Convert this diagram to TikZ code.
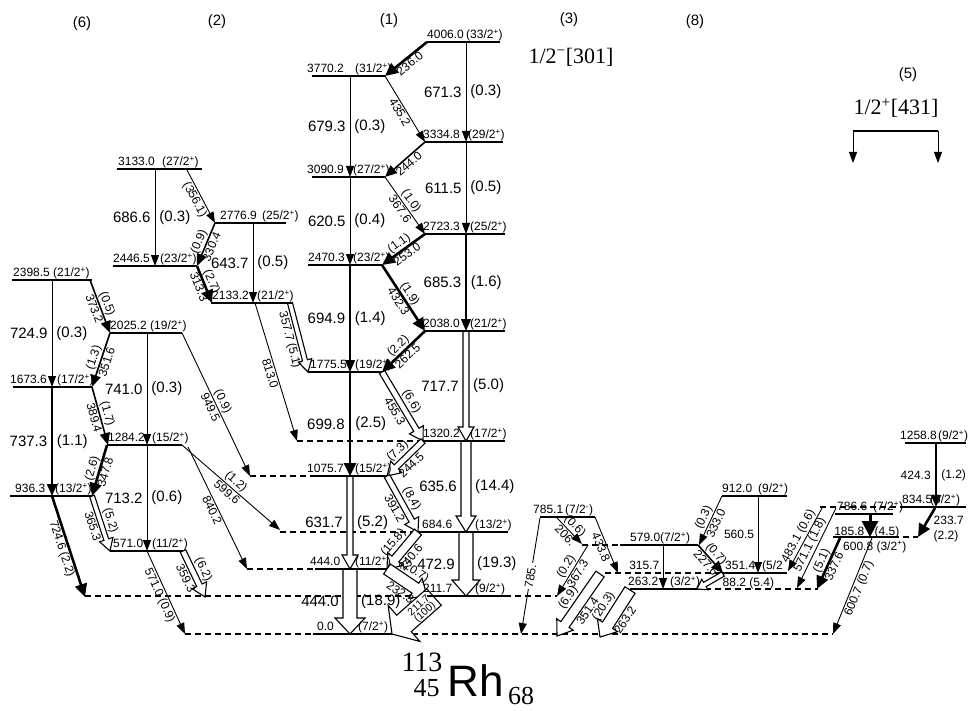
\documentclass[tikz,border=0pt]{standalone}
\usepackage{fontspec}
\setmainfont{Liberation Sans}
\newfontfamily\tnr{Liberation Serif}
\usetikzlibrary{arrows.meta,calc}
\tikzset{
 lev/.style={line width=2.6pt},
 dsh/.style={line width=1.2pt, dash pattern=on 6pt off 4pt},
 tn/.style={line width=0.9pt, -{Triangle[length=11pt,width=8pt]}},
 tm/.style={line width=1.6pt, -{Triangle[length=12pt,width=10pt]}},
 tk/.style={line width=2.6pt, -{Triangle[length=13pt,width=12pt]}},
 tkb/.style={line width=3pt, -{Triangle[length=16pt,width=16pt]}},
 holl/.style={line width=1.1pt, fill=white, line join=miter},
 llab/.style={font=\fontsize{12}{12}\selectfont, inner sep=0pt},
 vlab/.style={font=\fontsize{15}{15}\selectfont, inner sep=0pt},
 lab/.style={font=\fontsize{12}{12}\selectfont, inner sep=1.5pt},
 slab/.style={font=\fontsize{10.5}{10.5}\selectfont, inner sep=0.5pt},
 blab/.style={font=\fontsize{15}{15}\selectfont},
 nilss/.style={font=\tnr\fontsize{22}{22}\selectfont, inner sep=0pt},
}
\newcommand\ifnz[2]{\if\relax\detokenize{#1}\relax\else #2\fi}
\newcommand\lev[8]{%
 \coordinate (#1L) at (#2,#4); \coordinate (#1R) at (#3,#4);
 \draw[lev] (#1L) -- (#1R);
 \node[llab,anchor=base west] (#1e) at (#5,#4-3.5) {#6};
 \node[llab,anchor=base west] (#1s) at (#7,#4-3.5) {#8};}
\newcommand\dl[4]{%
 \coordinate (#1a) at (#2,#4); \coordinate (#1b) at (#3,#4);
 \draw[dsh] (#1a) -- (#1b);}
\newcommand\vg[7]{%
 \coordinate (#1a) at (#3,#4); \coordinate (#1b) at (#3,#5);
 \draw[#2] (#1a) -- (#1b) node[midway,left=4pt,vlab] (#1l) {#6} node[midway,right=4pt,vlab] (#1r) {#7};}
\newcommand\dg[6]{%
 \coordinate (#1a) at (#3); \coordinate (#1b) at (#4);
 \draw[#2] (#1a) -- (#1b);
 \ifnz{#5}{\path (#1a) -- (#1b) node[midway,sloped,above,lab] (#1u) {#5};}%
 \ifnz{#6}{\path (#1a) -- (#1b) node[midway,sloped,below,lab] (#1d) {#6};}}
\newcommand\hol[8]{%
 \coordinate (#1a) at (#2); \coordinate (#1b) at (#3);
 \coordinate (#1c) at ($(#1b)!#6!(#1a)$);
 \draw[holl] ($(#1a)!#4!90:(#1b)$) -- ($(#1c)!#4!90:(#1b)$) -- ($(#1c)!#5!90:(#1b)$) -- (#1b)
   -- ($(#1c)!#5!-90:(#1b)$) -- ($(#1c)!#4!-90:(#1b)$) -- ($(#1a)!#4!-90:(#1b)$) -- cycle;
 \ifnz{#7}{\path (#1a) -- (#1b) node[midway,sloped,above=#4,lab] (#1u) {#7};}%
 \ifnz{#8}{\path (#1a) -- (#1b) node[midway,sloped,below=#4,lab] (#1d) {#8};}}
\newcommand\holv[9]{%
 \hol{#1}{#2,#3}{#2,#4}{#5}{#6}{#7}{}{}
 \path (#1a) -- (#1b) node[midway,left=#5,xshift=-4pt,vlab] (#1l) {#8} node[midway,right=#5,xshift=4pt,vlab] (#1r) {#9};}
\newcommand\pl{\textsuperscript{+}}
\begin{document}
\begin{tikzpicture}[x=1pt,y=-1pt]
\useasboundingbox (0,0) rectangle (968,711);
% band labels
\node[blab] (b6) at (82,24) {(6)};
\node[blab] (b2) at (217,22) {(2)};
\node[blab] (b1) at (389,21) {(1)};
\node[blab] (b3) at (569,20) {(3)};
\node[blab] (b8) at (695,22) {(8)};
\node[blab] (b5) at (908,75) {(5)};
\node[nilss] (n3) at (571,57) {1/2\textsuperscript{\char"2212}[301]};
\node[nilss] (n5) at (896,108) {1/2\textsuperscript{+}[431]};
\coordinate (bkl) at (853,131); \coordinate (bkr) at (938,131);
\coordinate (bkla) at (853,163); \coordinate (bkra) at (938,163);
\draw[line width=1.2pt] (bkl) -- (bkr);
\draw[tn] (bkl) -- (bkla); \draw[tn] (bkr) -- (bkra);
% dashed extensions
\dl{d1320}{297}{423}{441}
\dl{d1075}{250}{310}{476}
\dl{d684}{280}{418}{532}
\dl{d444}{247}{315}{569}
\dl{d211a}{85}{427}{596}
\dl{d211b}{505}{557}{596}
\dl{d0a}{185}{313}{634}
\dl{d0b}{392}{833}{634}
\dl{d579}{582}{620}{545}
\dl{d351}{605}{723}{573}
\dl{d263}{695}{818}{589}
\dl{d834}{820}{903}{507}
\dl{d600}{893}{918}{537}
% hollow transitions
\holv{g717}{466}{331}{441}{3pt}{8pt}{14pt}{717.7}{(5.0)}
\holv{g635}{466}{441}{532}{5pt}{10pt}{16pt}{635.6}{(14.4)}
\holv{g631}{350}{476}{569}{3pt}{8pt}{14pt}{631.7}{(5.2)}
\holv{g472}{466}{532}{596}{7pt}{14pt}{16pt}{472.9}{(19.3)}
\holv{g444}{350}{569}{634}{7pt}{15pt}{16pt}{444.0}{(18.9)}
\hol{g357}{290,303}{308,372}{2.5pt}{7pt}{12pt}{}{357.7 (5.1)}
\hol{g455}{382,372}{423,441}{3pt}{8pt}{13pt}{(6.6)}{455.3}
\hol{g245}{423,441}{387,476}{3pt}{8pt}{13pt}{(7.3)}{244.5}
\hol{g391}{387,476}{418,532}{3pt}{8pt}{13pt}{(8.4)}{391.2}
\hol{g240}{418,532}{387,569}{4.5pt}{10pt}{13pt}{(15.8)}{240.6}
\hol{g232}{387,569}{427,596}{6pt}{12pt}{14pt}{(20.7)}{232.3}
\hol{g211}{434,597}{392,634}{11pt}{24pt}{16pt}{}{}
\path (g211a) -- (g211b) node[pos=0.3,sloped,above=0pt,slab] (g211u) {211.7} node[pos=0.3,sloped,below=0pt,slab] (g211d) {(100)};
\hol{g365}{92,496}{110,551}{2.5pt}{7pt}{12pt}{(5.2)}{365.3}
\hol{g359}{183,551}{205,597}{3pt}{8pt}{13pt}{(6.2)}{359.3}
\hol{g351b}{600,574}{557,636}{5pt}{10pt}{14pt}{(6.9)}{351.4}
\hol{g263}{630,590}{600,637}{6pt}{12pt}{14pt}{(20.3)}{263.2}
\hol{g88}{723,574}{697,589}{2.5pt}{6pt}{9pt}{}{}
\node[lab,anchor=base west] (t88) at (721,586) {88.2 (5.4)};
% levels
\lev{L4006}{427}{500}{42}{427}{4006.0}{466}{(33/2\pl)}
\lev{L3770}{312}{385}{76}{307}{3770.2}{355}{(31/2\pl)}
\lev{L3334}{425}{503}{142}{423}{3334.8}{468}{(29/2\pl)}
\lev{L3090}{312}{385}{177}{307}{3090.9}{353}{(27/2\pl)}
\lev{L2723}{425}{505}{234}{423}{2723.3}{470}{(25/2\pl)}
\lev{L2470}{308}{382}{265}{308}{2470.3}{353}{(23/2\pl)}
\lev{L2038}{425}{505}{331}{423}{2038.0}{470}{(21/2\pl)}
\lev{L1775}{308}{382}{372}{310}{1775.5}{355}{(19/2\pl)}
\lev{L1320}{423}{505}{441}{423}{1320.2}{470}{(17/2\pl)}
\lev{L1075}{310}{387}{476}{307}{1075.7}{355}{(15/2\pl)}
\lev{L684}{418}{508}{532}{422}{684.6}{475}{(13/2\pl)}
\lev{L444}{315}{387}{569}{310}{444.0}{355}{(11/2\pl)}
\lev{L211}{427}{505}{596}{423}{211.7}{475}{(9/2\pl)}
\lev{L0}{313}{392}{634}{317}{0.0}{358}{(7/2\pl)}
\lev{L3133}{117}{202}{169}{118}{3133.0}{162}{(27/2\pl)}
\lev{L2776}{215}{286}{223}{220}{2776.9}{262}{(25/2\pl)}
\lev{L2446}{113}{197}{266}{113}{2446.5}{160}{(23/2\pl)}
\lev{L2133}{211}{293}{303}{212}{2133.2}{257}{(21/2\pl)}
\lev{L2398}{12}{92}{280}{13}{2398.5}{53}{(21/2\pl)}
\lev{L2025}{110}{182}{333}{110}{2025.2}{150}{(19/2\pl)}
\lev{L1673}{13}{92}{387}{10}{1673.6}{57}{(17/2\pl)}
\lev{L1284}{107}{182}{445}{108}{1284.2}{152}{(15/2\pl)}
\lev{L936}{10}{92}{496}{15}{936.3}{55}{(13/2\pl)}
\lev{L571}{110}{183}{551}{113}{571.0}{152}{(11/2\pl)}
\lev{L785}{540}{595}{517}{533}{785.1}{565}{(7/2\textsuperscript{-})}
\lev{L579}{620}{698}{545}{630}{579.0}{660}{(7/2\pl)}
\lev{L912}{722}{787}{496}{722}{912.0}{758}{(9/2\pl)}
\lev{L351}{723}{787}{573}{725}{351.4}{762}{(5/2}
\lev{L263}{630}{695}{589}{628}{263.2}{670}{(3/2\pl)}
\lev{L1258}{905}{966}{443}{900}{1258.8}{938}{(9/2\pl)}
\lev{L834}{903}{966}{507}{902}{834.5}{930}{(5/2\pl)}
\lev{L786}{835}{893}{514}{837}{786.6}{873}{(7/2\pl)}
\coordinate (L600L) at (833,537); \coordinate (L600R) at (893,537);
\draw[lev] (L600L) -- (L600R);
\node[llab,anchor=base west] (L600e) at (843,550) {600.8 (3/2\pl)};
% vertical transitions
\vg{g671}{tn}{466}{42}{142}{671.3}{(0.3)}
\vg{g679}{tn}{350}{76}{177}{679.3}{(0.3)}
\vg{g611}{tn}{466}{142}{234}{611.5}{(0.5)}
\vg{g620}{tn}{350}{177}{265}{620.5}{(0.4)}
\vg{g685}{tm}{466}{234}{331}{685.3}{(1.6)}
\vg{g694}{tm}{350}{265}{372}{694.9}{(1.4)}
\vg{g699}{tk}{350}{372}{476}{699.8}{(2.5)}
\vg{g686}{tn}{155}{169}{266}{686.6}{(0.3)}
\vg{g643}{tn}{253}{223}{303}{643.7}{(0.5)}
\vg{g724}{tn}{52}{280}{387}{724.9}{(0.3)}
\vg{g741}{tn}{147}{333}{445}{741.0}{(0.3)}
\vg{g737}{tm}{52}{387}{496}{737.3}{(1.1)}
\vg{g713}{tn}{147}{445}{551}{713.2}{(0.6)}
\coordinate (g424a) at (936,443); \coordinate (g424b) at (936,507);
\draw[tm] (g424a) -- (g424b) node[midway,left=3pt,lab] (g424l) {424.3} node[midway,right=3pt,lab] (g424r) {(1.2)};
\coordinate (g560a) at (758,496); \coordinate (g560b) at (758,573);
\draw[tn] (g560a) -- (g560b) node[midway,left=2pt,lab] (g560l) {560.5};
\coordinate (g315a) at (663,545); \coordinate (g315b) at (663,589);
\draw[tn] (g315a) -- (g315b);
\node[lab,anchor=east] (g315l) at (661,565) {315.7};
\coordinate (g185a) at (870,514); \coordinate (g185b) at (870,537);
\draw[tkb] (g185a) -- (g185b);
\node[lab,anchor=base east] (g185l) at (866,535) {185.8};
\node[lab,anchor=base west] (g185r) at (873,535) {(4.5)};
% diagonal transitions
\dg{g236}{tk}{427,42}{385,76}{}{236.0}
\dg{g435}{tn}{385,76}{425,142}{}{435.2}
\dg{g244}{tm}{425,142}{385,177}{}{244.0}
\dg{g367}{tn}{385,177}{425,234}{(1.0)}{367.6}
\dg{g253}{tk}{425,234}{382,265}{(1.1)}{253.0}
\dg{g432}{tk}{382,265}{425,331}{(1.9)}{432.3}
\dg{g262}{tk}{425,331}{382,372}{(2.2)}{262.5}
\dg{g356}{tn}{187,170}{215,223}{}{(356.1)}
\dg{g330}{tm}{215,223}{197,266}{(0.9)}{330.4}
\dg{g313}{tk}{197,266}{212,303}{(2.7)}{313.3}
\dg{g813}{tn}{255,303}{297,441}{}{813.0}
\dg{g373}{tm}{90,280}{110,333}{(0.5)}{373.2}
\dg{g351}{tm}{110,333}{92,387}{(1.3)}{351.6}
\dg{g949}{tn}{182,333}{250,476}{(0.9)}{949.5}
\dg{g389}{tm}{92,387}{108,445}{(1.7)}{389.4}
\dg{g347}{tk}{107,445}{92,496}{(2.6)}{347.8}
\dg{g599}{tn}{182,445}{280,530}{(1.2)}{599.6}
\dg{g840}{tn}{188,447}{247,569}{}{840.2}
\dg{g7246}{tk}{52,496}{85,597}{}{724.6 (2.2)}
\dg{g571}{tn}{147,551}{185,634}{}{571.0 (0.9)}
\coordinate (g785a) at (540,518); \coordinate (g785b) at (521,634);
\draw[tn] (g785a) -- (g785b) node[pos=0.5,sloped,fill=white,lab] (g785l) {785.};
\dg{g206}{tn}{557,518}{582,544}{(0.6)}{206.}
\dg{g433}{tn}{595,517}{618,573}{}{433.8}
\dg{g3673}{tn}{588,545}{557,596}{(0.2)}{367.3}
\dg{g227}{tm}{698,545}{723,573}{(0.7)}{227.6}
\dg{g333}{tn}{722,496}{699,545}{(0.3)}{333.0}
\dg{g483}{tn}{822,508}{788,571}{483.1 (0.6)}{}
\dg{g5711}{tn}{836,508}{797,588}{571.1 (1.8)}{}
\dg{g337}{tk}{840,538}{817,589}{(5.1)}{337.6}
\dg{g600}{tn}{872,538}{833,634}{}{600.7 (0.7)}
\coordinate (g233a) at (935,508); \coordinate (g233b) at (918,537);
\draw[tk] (g233a) -- (g233b);
\node[lab,anchor=west] (g233l) at (932,520) {233.7};
\node[lab,anchor=west] (g233r) at (932,536) {(2.2)};
% nucleus
\node[font=\tnr\fontsize{28}{28}\selectfont, inner sep=0pt] (nA) at (422,662.5) {113};
\node[font=\tnr\fontsize{26}{26}\selectfont, inner sep=0pt] (nZ) at (426.5,688.5) {45};
\node[font=\fontsize{44}{44}\selectfont, inner sep=0pt] (nRh) at (475.5,681) {Rh};
\node[font=\tnr\fontsize{26}{26}\selectfont, inner sep=0pt] (nN) at (521,696) {68};
\end{tikzpicture}
\end{document}
